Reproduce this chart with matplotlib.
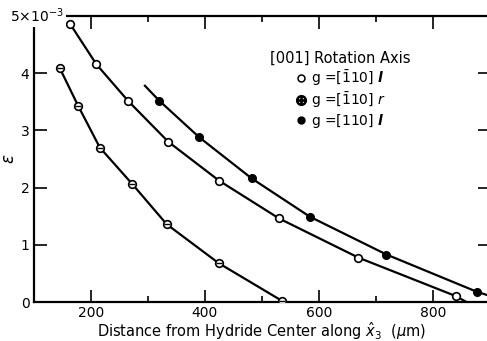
import matplotlib.pyplot as plt
from matplotlib.lines import Line2D
from matplotlib.ticker import MultipleLocator

# --- data (x in micrometres, strain in units of 1e-3)
open_x = [164, 210, 266, 336, 425, 530, 669, 839]
open_y = [4.86, 4.155, 3.51, 2.80, 2.12, 1.46, 0.775, 0.105]
open_curve_x = open_x + [858]
open_curve_y = open_y + [0.0]

cross_x = [146, 178, 216, 273, 333, 424, 535]
cross_y = [4.085, 3.43, 2.70, 2.06, 1.36, 0.68, 0.02]

filled_x = [320, 390, 482, 584, 718, 876]
filled_y = [3.52, 2.88, 2.16, 1.49, 0.83, 0.18]
filled_curve_x = [295] + filled_x + [898]
filled_curve_y = [3.78] + filled_y + [0.11]

x_ticks = [200, 400, 600, 800]
y_ticks = [0, 1, 2, 3, 4, 5]
y_ticklabels = ["0", "1", "2", "3", "4", ""]

legend_labels = [
    r"g =[$\bar{1}$10] $\mathbfit{l}$",
    r"g =[$\bar{1}$10] $\mathit{r}$",
    r"g =[110] $\mathbfit{l}$",
]

plt.rcParams["font.family"] = ["DejaVu Sans"]
plt.rcParams["mathtext.fontset"] = "dejavusans"

W, H = 487, 341
fig = plt.figure(figsize=(W / 100, H / 100), dpi=100)
ax = fig.add_axes([33.6 / W, 39 / H, (490.4 - 33.6) / W, 286 / H])

lw = 1.6
ax.plot(open_curve_x, open_curve_y, color="black", lw=lw, zorder=2)
ax.plot(cross_x, cross_y, color="black", lw=lw, zorder=2)
ax.plot(filled_curve_x, filled_curve_y, color="black", lw=lw, zorder=2)

ax.plot(open_x, open_y, ls="none", marker="o", ms=5.5, mfc="white",
        mec="black", mew=1.2, zorder=3)
ax.plot(cross_x, cross_y, ls="none", marker="o", ms=5.5, mfc="white",
        mec="black", mew=1.2, zorder=3)
ax.plot(cross_x, cross_y, ls="none", marker="_", ms=5, mec="black",
        mew=1.0, zorder=4)
ax.plot(filled_x, filled_y, ls="none", marker="o", ms=5.5, mfc="black",
        mec="black", zorder=3)

ax.set_xlim(100, 900)
ax.set_ylim(0, 5)
ax.set_xticks(x_ticks)
ax.xaxis.set_minor_locator(MultipleLocator(100))
ax.set_yticks(y_ticks)
ax.set_yticklabels(y_ticklabels)

ax.tick_params(which="both", direction="in", top=True, right=True,
               labelsize=10, width=1.2, pad=3)
ax.tick_params(which="major", length=9)
ax.tick_params(which="minor", length=4)
ax.tick_params(axis="y", which="minor", left=False, right=False)
for sp in ax.spines.values():
    sp.set_linewidth(1.6)

# corner label for the y scale, drawn over the frame corner like the original
ax.text(0.0075, 1.0, r"5$\times$10$^{-3}$", transform=ax.transAxes,
        ha="center", va="center", fontsize=10,
        bbox=dict(facecolor="white", edgecolor="none", pad=1.5), zorder=5)

ax.set_xlabel(r"Distance from Hydride Center along $\hat{x}_3$  ($\mu$m)",
              fontsize=10.5, labelpad=0)
ax.set_ylabel(r"$\epsilon$", rotation=90, fontsize=12, labelpad=8, va="center")

handles = [
    Line2D([], [], ls="none", marker="o", ms=5, mfc="white", mec="black", mew=1.1),
    Line2D([], [], ls="none", marker=r"$\oplus$", ms=7, color="black"),
    Line2D([], [], ls="none", marker="o", ms=5, mfc="black", mec="black"),
]
ax.legend(handles, legend_labels, title="[001] Rotation Axis",
          loc="upper left", bbox_to_anchor=(260 / W, 1 - 41 / H),
          bbox_transform=fig.transFigure, frameon=False, fontsize=10,
          title_fontsize=10.5, handlelength=1.0, handletextpad=0.2,
          labelspacing=0.15, borderpad=0.2)

fig.savefig("out.png", dpi=100)
